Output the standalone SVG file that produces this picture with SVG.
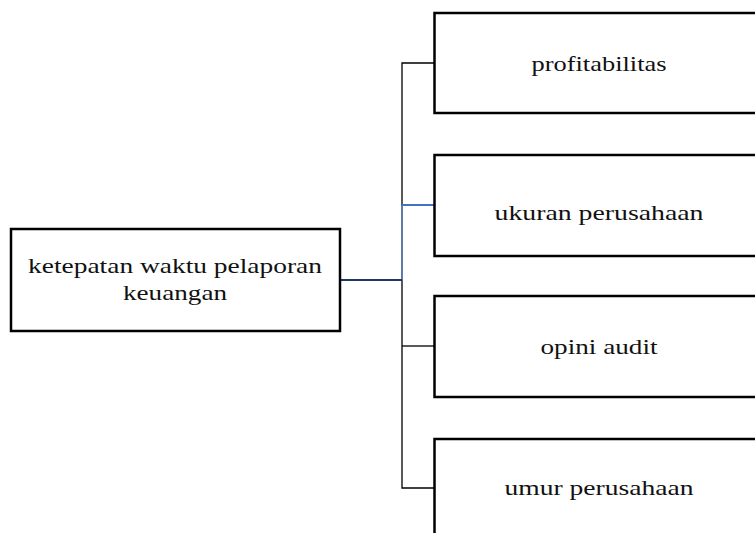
<svg xmlns="http://www.w3.org/2000/svg" width="755" height="533" viewBox="0 0 755 533">
<style>
.box{fill:#fff;stroke:#000;stroke-width:2.5}
.t{font-family:"Liberation Serif","Times New Roman",serif;font-size:22px;fill:#111;text-anchor:middle}
.c{fill:none;stroke:#000;stroke-width:1.3}
</style>
<rect width="755" height="533" fill="#fff"/>
<g id="connectors">
<path class="c" d="M434 63 H402 V205"/>
<path class="c" d="M402 280 V488 H434"/>
<path class="c" d="M402 346 H434"/>
<path fill="none" stroke="#2E4C86" stroke-width="1.5" d="M402 205 V280"/>
<path fill="none" stroke="#4472C4" stroke-width="2" d="M402 205 H434"/>
<path fill="none" stroke="#1F3864" stroke-width="2" d="M340 280 H402"/>
</g>
<g id="n0">
<rect class="box" x="11" y="229" width="329" height="102"/>
<text class="t" x="175" y="273" textLength="294" lengthAdjust="spacingAndGlyphs">ketepatan waktu pelaporan</text>
<text class="t" x="175" y="300" textLength="104" lengthAdjust="spacingAndGlyphs">keuangan</text>
</g>
<g id="n1">
<rect class="box" x="434.5" y="13" width="340" height="100"/>
<text class="t" x="599" y="71" textLength="135" lengthAdjust="spacingAndGlyphs">profitabilitas</text>
</g>
<g id="n2">
<rect class="box" x="434.5" y="155" width="340" height="101"/>
<text class="t" x="599" y="220" textLength="209" lengthAdjust="spacingAndGlyphs">ukuran perusahaan</text>
</g>
<g id="n3">
<rect class="box" x="434.5" y="296" width="340" height="101"/>
<text class="t" x="599" y="354" textLength="117" lengthAdjust="spacingAndGlyphs">opini audit</text>
</g>
<g id="n4">
<rect class="box" x="434.5" y="439" width="340" height="101"/>
<text class="t" x="599" y="495" textLength="189" lengthAdjust="spacingAndGlyphs">umur perusahaan</text>
</g>
</svg>
